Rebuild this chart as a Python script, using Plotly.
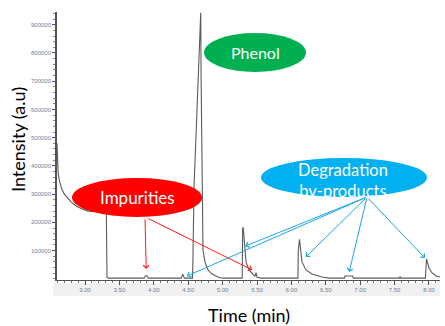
import plotly.graph_objects as go

# Chromatogram (time in min, intensity in a.u.)
time_min = [2.593, 2.600, 2.610, 2.630, 2.660, 2.700, 2.750, 2.800, 2.870, 2.950, 3.050, 3.200, 3.310,
            3.320, 3.340, 3.860, 3.880, 3.900, 3.920, 4.400, 4.420, 4.445,
            4.562, 4.568, 4.574, 4.585, 4.600, 4.642, 4.682, 4.688, 4.700, 4.703, 4.715, 4.744, 4.788,
            4.846, 4.933, 5.000,
            5.285, 5.292, 5.300, 5.311, 5.340, 5.384, 5.442, 5.470, 5.486, 5.500, 5.560,
            6.095, 6.100, 6.118, 6.154, 6.212, 6.299, 6.445, 6.550,
            6.770, 6.780, 6.890, 6.900, 7.570, 7.580, 7.590,
            7.948, 7.952, 7.964, 8.000, 8.044, 8.102, 8.160]
intensity = [480000, 420000, 375000, 345000, 320000, 300000, 285000, 272000, 258000, 248000, 240000, 236000, 234000,
             5000, 2500, 2500, 11000, 11000, 2500, 2500, 16000, 2500,
             2500, 60000, 200000, 330000, 421000, 704000, 942000, 704000, 421000, 279000, 102000, 60000, 31500,
             17000, 6700, 2500,
             2500, 180000, 182000, 150000, 60000, 31500, 14000, 9000, 22000, 6000, 2500,
             2500, 100000, 140000, 60000, 31500, 17300, 6700, 2500,
             2500, 10000, 10000, 2500, 2500, 9000, 2500,
             2500, 50000, 70500, 38600, 21000, 10000, 6700]

x_ticks = [3.0, 3.5, 4.0, 4.5, 5.0, 5.5, 6.0, 6.5, 7.0, 7.5, 8.0]
x_tick_labels = ["3.00", "3.50", "4.00", "4.50", "5.00", "5.50", "6.00", "6.50", "7.00", "7.50", "8.00"]
y_ticks = [100000, 200000, 300000, 400000, 500000, 600000, 700000, 800000, 900000]
y_tick_labels = ["100000", "200000", "300000", "400000", "500000", "600000", "700000", "800000", "900000"]

# Callout labels: (text, center time, center intensity, ellipse t0, t1, v0, v1, colour, font size)
callouts = [
    ("Phenol", 5.471, 803000, 4.730, 6.212, 732600, 870700, "#00b050", 16),
    ("Impurities", 3.756, 286500, 2.811, 4.701, 219200, 357300, "#ff0000", 17),
    ("Degradation<br>by-products", 6.75, 346700, 5.558, 7.971, 290000, 428100, "#00b0f0", 16.5),
]

# Arrows: (tail time, tail intensity, head time, head intensity, colour)
arrows = [
    (3.872, 215600, 3.890, 35000, "#ff1a1a"),
    (3.901, 215600, 5.430, 32000, "#ff1a1a"),
    (7.099, 290000, 5.330, 116000, "#1aa7ea"),
    (7.099, 290000, 4.480, 10000, "#1aa7ea"),
    (7.099, 290000, 6.210, 77500, "#1aa7ea"),
    (7.099, 290000, 6.840, 24400, "#1aa7ea"),
    (7.099, 290000, 7.940, 74000, "#1aa7ea"),
]

fig = go.Figure()
fig.add_trace(go.Scatter(x=time_min, y=intensity, mode="lines",
                         line=dict(color="#5a5a5a", width=1.1), hoverinfo="skip", showlegend=False))

tick_font = dict(family="Liberation Sans", size=6, color="#6f7f94")
fig.update_xaxes(range=[2.593, 8.16], tickvals=x_ticks, ticktext=x_tick_labels, showline=True,
                 linecolor="#555555", linewidth=1, ticks="outside", ticklen=4, tickcolor="#555555",
                 minor=dict(dtick=0.1, ticks="outside", ticklen=2, tickcolor="#777777"),
                 showgrid=False, zeroline=False, tickfont=tick_font)
fig.update_yaxes(range=[-4000, 945000], tickvals=y_ticks, ticktext=y_tick_labels, showline=True,
                 linecolor="#555555", linewidth=1.5, ticks="outside", ticklen=3, tickcolor="#555555",
                 minor=dict(dtick=20000, ticks="outside", ticklen=2, tickcolor="#888888"),
                 showgrid=False, zeroline=False, tickfont=tick_font)

shapes = [dict(type="rect", xref="paper", yref="paper", x0=-0.01, x1=1.0, y0=-0.06, y1=-0.011,
               fillcolor="#f1f1f1", line=dict(width=0), layer="below")]
annotations = []
for text, tc, vc, t0, t1, v0, v1, col, fs in callouts:
    shapes.append(dict(type="circle", xref="x", yref="y", x0=t0, x1=t1, y0=v0, y1=v1,
                       fillcolor=col, line=dict(width=0), layer="above"))
for tt, tv, ht, hv, col in arrows:
    annotations.append(dict(x=ht, y=hv, xref="x", yref="y", ax=tt, ay=tv, axref="x", ayref="y",
                            text="", showarrow=True, arrowhead=4, arrowsize=1.1, arrowwidth=1,
                            arrowcolor=col, standoff=0, startstandoff=0))
for text, tc, vc, t0, t1, v0, v1, col, fs in callouts:
    annotations.append(dict(x=tc, y=vc, xref="x", yref="y", text=text, showarrow=False,
                            font=dict(family="Lato", size=fs, color="white"), xanchor="center", yanchor="middle"))

annotations.append(dict(x=0.50, y=-0.13, xref="paper", yref="paper", text="Time (min)", showarrow=False,
                        font=dict(family="Lato", size=18, color="black"), xanchor="center", yanchor="middle"))
annotations.append(dict(x=-0.102, y=0.526, xref="paper", yref="paper", text="Intensity (a.u)", showarrow=False,
                        textangle=-90, font=dict(family="Lato", size=18, color="black"),
                        xanchor="center", yanchor="middle"))

fig.update_layout(width=445, height=326, margin=dict(l=57, r=5, t=12, b=46),
                  paper_bgcolor="white", plot_bgcolor="white", shapes=shapes, annotations=annotations)

fig.write_html("out.html", config={"displayModeBar": False},
               post_script="document.body.style.margin='0px';document.body.style.overflow='hidden';")
